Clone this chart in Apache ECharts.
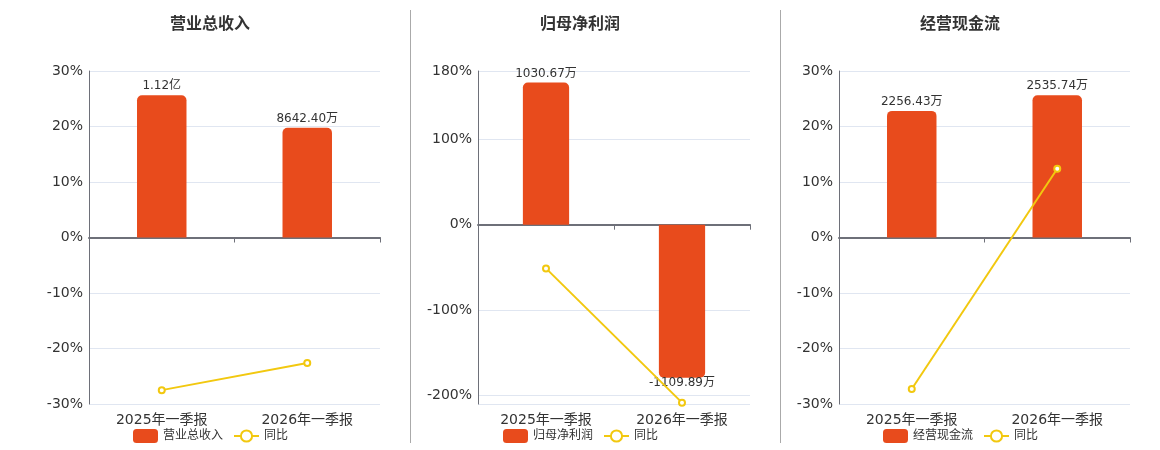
<!DOCTYPE html>
<html>
<head>
<meta charset="utf-8">
<script src="https://cdn.jsdelivr.net/npm/echarts@6/dist/echarts.min.js"></script>
<style>
html,body{margin:0;padding:0;background:#fff;}
#c{width:1160px;height:450px;}
</style>
</head>
<body>
<div id="c"></div>
<script>
// ---- data ----
const categories = ['2025年一季报', '2026年一季报'];
const titles = ['营业总收入', '归母净利润', '经营现金流'];
// bar values in 万元
const revenue = [11200, 8642.40];
const netProfit = [1030.67, -1109.89];
const cashFlow = [2256.43, 2535.74];
// YoY (%)
const revenueYoy = [-27.5, -22.6];
const netProfitYoy = [-51.2, -208.4];
const cashFlowYoy = [-27.3, 12.4];
const yoyName = '同比';

const barValues = [revenue, netProfit, cashFlow];
const yoyValues = [revenueYoy, netProfitYoy, cashFlowYoy];

// ---- layout / styles ----
const BAR = '#E84B1C';
const LINE = '#F2C80F';
const centers = [210, 580, 960];
const grids = [
  {left: 89, width: 291, top: 71, height: 333},
  {left: 478, width: 272, top: 71, height: 333},
  {left: 839, width: 291, top: 71, height: 333}
];
const pctAxes = [
  {min: -30, max: 30, interval: 10},
  {min: -210, max: 180},
  {min: -30, max: 30, interval: 10}
];
const barAxes = [
  {min: -13108, max: 13108},
  {min: -1300, max: 1114.5},
  {min: -2967.5, max: 2967.5}
];

function fmt(v) {
  if (Math.abs(v) >= 10000) return (v / 10000).toFixed(2).replace(/0+$/, '').replace(/\.$/, '') + '亿';
  return v.toFixed(2) + '万';
}

const option = {
  animation: false,
  textStyle: {fontFamily: 'DejaVu Sans, Noto Sans CJK SC, sans-serif'},
  title: [], legend: [], grid: [], xAxis: [], yAxis: [], series: [],
  graphic: [
    {type: 'line', shape: {x1: 410.5, y1: 10, x2: 410.5, y2: 443}, style: {stroke: '#aaaaaa', lineWidth: 1}},
    {type: 'line', shape: {x1: 780.5, y1: 10, x2: 780.5, y2: 443}, style: {stroke: '#aaaaaa', lineWidth: 1}}
  ]
};

for (let i = 0; i < 3; i++) {
  option.title.push({
    text: titles[i], left: centers[i] - 5, top: 12, textAlign: 'center',
    textStyle: {fontSize: 16, fontWeight: 'bold', color: '#333'}
  });
  option.grid.push(grids[i]);
  // axis line at zero with ticks
  option.xAxis.push({
    type: 'category', gridIndex: i, data: categories,
    axisLine: {onZero: true, lineStyle: {color: '#6E7079', width: 2}},
    axisTick: {show: true, length: 5, lineStyle: {color: '#6E7079'}},
    axisLabel: {show: false}
  });
  // labels at grid bottom
  option.xAxis.push({
    type: 'category', gridIndex: i, data: categories, position: 'bottom',
    axisLine: {show: false, onZero: false}, axisTick: {show: false},
    axisLabel: {fontSize: 14, color: '#333', margin: 9}
  });
  const pa = pctAxes[i];
  const yPct = {
    type: 'value', gridIndex: i, min: pa.min, max: pa.max, position: 'left',
    axisLine: {show: true, lineStyle: {color: '#6E7079'}},
    axisTick: {show: false},
    splitLine: {lineStyle: {color: '#E0E6F1'}},
    axisLabel: {fontSize: 14, color: '#333', margin: 6, formatter: '{value}%'}
  };
  if (pa.interval) yPct.interval = pa.interval;
  else { yPct.splitNumber = 4; yPct.axisLabel.showMinLabel = false; }
  option.yAxis.push(yPct);
  option.yAxis.push({
    type: 'value', gridIndex: i, min: barAxes[i].min, max: barAxes[i].max, position: 'right',
    show: false, splitLine: {show: false}
  });

  option.series.push({
    name: titles[i], type: 'bar', xAxisIndex: 2 * i, yAxisIndex: 2 * i + 1, barWidth: '34%',
    data: barValues[i].map(v => ({
      value: v,
      itemStyle: {borderRadius: v >= 0 ? [5, 5, 0, 0] : [0, 0, 5, 5]},
      label: v >= 0 ? {position: 'top', distance: 3} : {position: 'bottom', distance: -1}
    })),
    itemStyle: {color: BAR},
    label: {show: true, fontSize: 12, color: '#333', formatter: p => fmt(p.value)},
    z: 2
  });
  option.series.push({
    name: yoyName, type: 'line', xAxisIndex: 2 * i, yAxisIndex: 2 * i,
    data: yoyValues[i], symbol: 'emptyCircle', symbolSize: 6,
    lineStyle: {color: LINE, width: 2}, itemStyle: {color: LINE},
    z: 3
  });
  option.legend.push({
    data: [titles[i], yoyName], left: centers[i] - 82, top: 424,
    itemWidth: 25, itemHeight: 14, itemGap: 10,
    textStyle: {fontSize: 12, color: '#333'}
  });
}

const chart = echarts.init(document.getElementById('c'));
chart.setOption(option);
</script>
</body>
</html>
